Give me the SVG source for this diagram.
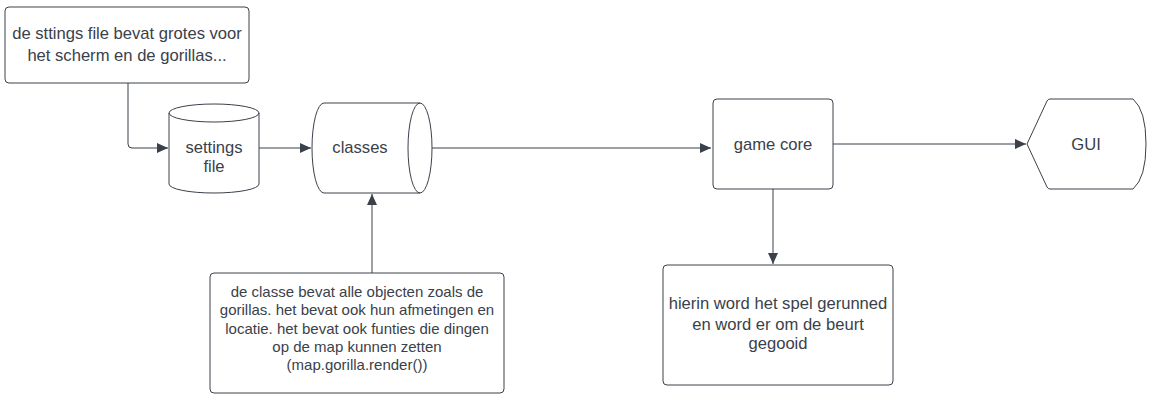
<svg xmlns="http://www.w3.org/2000/svg" width="1156" height="410" viewBox="0 0 1156 410">
<defs>
<style>
.s{fill:#fff;stroke:#3a414a;stroke-width:1}
.t{font-family:"Liberation Sans",Arial,sans-serif;font-size:16.6px;fill:#3a414a;text-anchor:middle}
.m{font-size:15px}
.c{fill:none;stroke:#3a414a;stroke-width:1}
</style>
<marker id="a" markerWidth="12" markerHeight="10" refX="11" refY="5" orient="auto" markerUnits="userSpaceOnUse">
<path d="M0,0 L11,5 L0,10 Z" fill="#3a414a"/>
</marker>
</defs>
<rect width="1156" height="410" fill="#fff"/>
<g id="connectors">
<path class="c" d="M128,83 V144 Q128,148 132,148 H168" marker-end="url(#a)"/>
<path class="c" d="M259,148 H311" marker-end="url(#a)"/>
<path class="c" d="M432,148 H711" marker-end="url(#a)"/>
<path class="c" d="M833,144 H1026" marker-end="url(#a)"/>
<path class="c" d="M773,189 V264" marker-end="url(#a)"/>
<path class="c" d="M372,273 V194" marker-end="url(#a)"/>
</g>
<g id="note-settings">
<rect class="s" x="5" y="7" width="244" height="76" rx="4"/>
<text class="t" x="127" y="39">de sttings file bevat grotes voor</text>
<text class="t" x="127" y="61">het scherm en de gorillas...</text>
</g>
<g id="settings-file">
<path class="s" d="M169,113 A45,9 0 0 1 259,113 V184 A45,9 0 0 1 169,184 Z"/>
<path class="c" d="M169,113 A45,9 0 0 0 259,113"/>
<text class="t" x="214" y="153">settings</text>
<text class="t" x="214" y="172">file</text>
</g>
<g id="classes">
<path class="s" d="M324,103 H420 A12,45 0 0 1 420,193 H324 A12,45 0 0 1 324,103 Z"/>
<path class="c" d="M420,103 A12,45 0 0 0 420,193"/>
<text class="t" x="360" y="153">classes</text>
</g>
<g id="game-core">
<rect class="s" x="713" y="99" width="120" height="90" rx="4"/>
<text class="t" x="773" y="150">game core</text>
</g>
<g id="gui">
<path class="s" d="M1027,144 L1047,101 Q1048,99 1050,99 H1133 Q1146,110 1146,144 Q1146,178 1133,189 H1050 Q1048,189 1047,187 Z"/>
<text class="t" x="1086" y="150">GUI</text>
</g>
<g id="note-classes">
<rect class="s" x="210" y="273" width="294" height="120" rx="4"/>
<text class="t m" x="357" y="297">de classe bevat alle objecten zoals de</text>
<text class="t m" x="357" y="315">gorillas. het bevat ook hun afmetingen en</text>
<text class="t m" x="357" y="334">locatie. het bevat ook funties die dingen</text>
<text class="t m" x="357" y="352">op de map kunnen zetten</text>
<text class="t m" x="357" y="370">(map.gorilla.render())</text>
</g>
<g id="note-core">
<rect class="s" x="663" y="265" width="230" height="120" rx="4"/>
<text class="t" x="778" y="309">hierin word het spel gerunned</text>
<text class="t" x="778" y="330">en word er om de beurt</text>
<text class="t" x="778" y="349">gegooid</text>
</g>
</svg>
